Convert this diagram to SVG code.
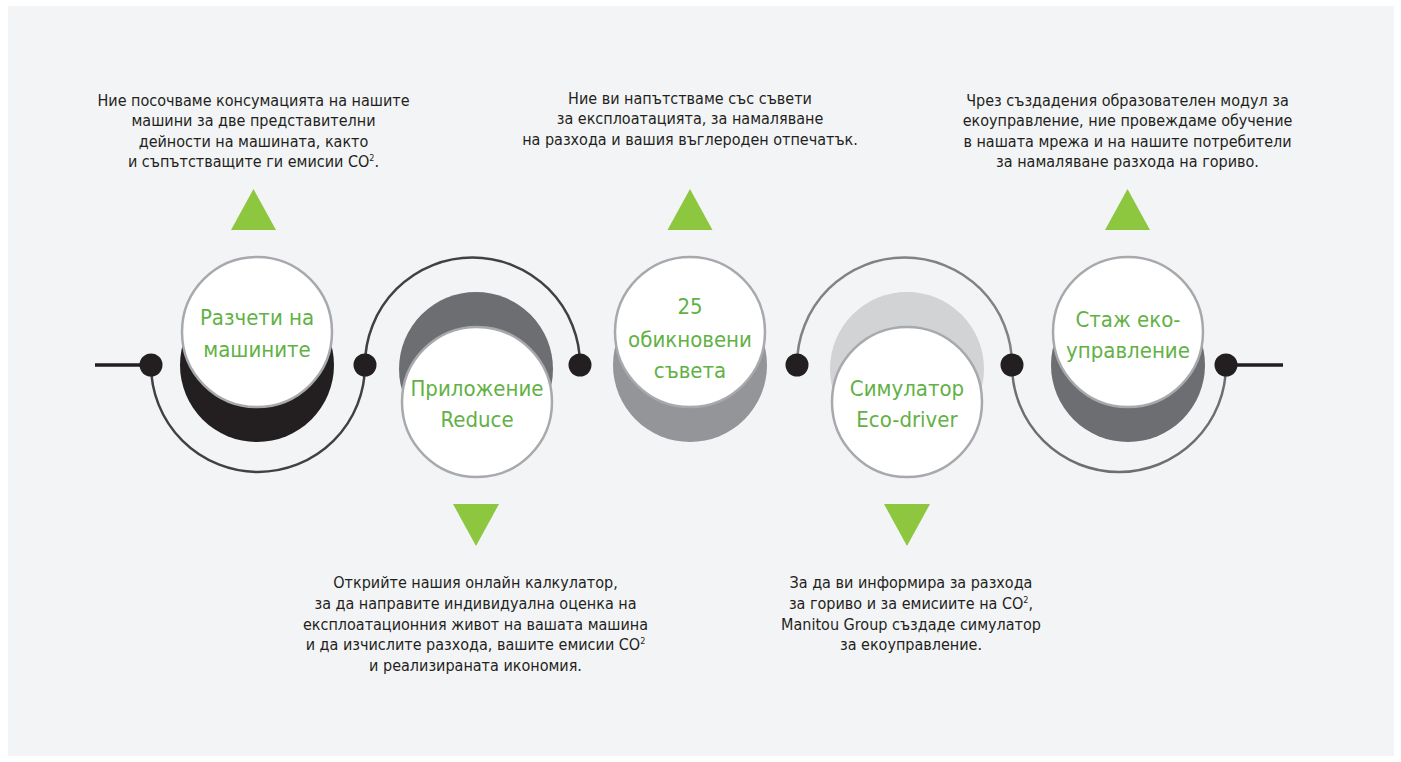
<svg xmlns="http://www.w3.org/2000/svg" width="1401" height="762" viewBox="0 0 1401 762">
<style>
.bg{fill:#f3f4f6}
.desc{font-family:"Liberation Sans Narrow","DejaVu Sans Condensed","Liberation Sans",sans-serif;font-stretch:condensed;font-size:16px;fill:#231f20;text-anchor:middle}
.sup{font-size:9px}
.lbl{font-family:"Liberation Sans Narrow","DejaVu Sans Condensed","Liberation Sans",sans-serif;font-stretch:condensed;font-size:22px;fill:#62b145;text-anchor:middle}
.face{fill:#ffffff;stroke:#a7a9ac;stroke-width:2.5}
.tri{fill:#8dc63f}
.dot{fill:#231f20}
.arc{fill:none;stroke-width:2.5}
.bar{stroke:#231f20;stroke-width:3.5}
</style>
<rect class="bg" x="8" y="6" width="1386" height="750"/>
<g id="connectors">
<line class="bar" x1="95" y1="365" x2="151" y2="365"/>
<line class="bar" x1="1226" y1="365" x2="1283" y2="365"/>
<path class="arc" stroke="#414042" d="M151,365 A107,107 0 0 0 365,365"/>
<path class="arc" stroke="#414042" d="M365,365 A107.5,107.5 0 0 1 580,365"/>
<path class="arc" stroke="#808285" d="M797,365 A107.5,107.5 0 0 1 1012,365"/>
<path class="arc" stroke="#6d6e71" d="M1012,365 A107,107 0 0 0 1226,365"/>
<circle class="dot" cx="151" cy="365" r="11.5"/>
<circle class="dot" cx="365" cy="365" r="11.5"/>
<circle class="dot" cx="580" cy="365" r="11.5"/>
<circle class="dot" cx="797" cy="365" r="11.5"/>
<circle class="dot" cx="1012" cy="365" r="11.5"/>
<circle class="dot" cx="1226" cy="365" r="11.5"/>
</g>
<g id="node1">
<circle cx="257" cy="365" r="77" fill="#231f20"/>
<circle class="face" cx="257" cy="332" r="75"/>
<text class="lbl" x="257" y="325">Разчети на</text>
<text class="lbl" x="257" y="357">машините</text>
<polygon class="tri" points="231,230 276,230 253.5,189"/>
<text class="desc" x="253.5" y="105.5">Ние посочваме консумацията на нашите</text>
<text class="desc" x="253.5" y="126">машини за две представителни</text>
<text class="desc" x="253.5" y="146.5">дейности на машината, както</text>
<text class="desc" x="253.5" y="167">и съпътстващите ги емисии CO<tspan class="sup" dy="-6">2</tspan><tspan dy="6">.</tspan></text>
</g>
<g id="node2">
<circle cx="476" cy="369" r="77" fill="#6d6e71"/>
<circle class="face" cx="477" cy="402" r="75"/>
<text class="lbl" x="477" y="396">Приложение</text>
<text class="lbl" x="477" y="427">Reduce</text>
<polygon class="tri" points="453,504 499,504 476,546"/>
<text class="desc" x="475.5" y="588">Открийте нашия онлайн калкулатор,</text>
<text class="desc" x="475.5" y="609">за да направите индивидуална оценка на</text>
<text class="desc" x="475.5" y="629.5">експлоатационния живот на вашата машина</text>
<text class="desc" x="475.5" y="650">и да изчислите разхода, вашите емисии CO<tspan class="sup" dy="-6">2</tspan></text>
<text class="desc" x="475.5" y="671">и реализираната икономия.</text>
</g>
<g id="node3">
<circle cx="690" cy="365" r="77" fill="#939598"/>
<circle class="face" cx="690" cy="332" r="75"/>
<text class="lbl" x="690" y="314">25</text>
<text class="lbl" x="690" y="347">обикновени</text>
<text class="lbl" x="690" y="378">съвета</text>
<polygon class="tri" points="667.5,230 712.5,230 690,189"/>
<text class="desc" x="690" y="103.5">Ние ви напътстваме със съвети</text>
<text class="desc" x="690" y="124">за експлоатацията, за намаляване</text>
<text class="desc" x="690" y="145">на разхода и вашия въглероден отпечатък.</text>
</g>
<g id="node4">
<circle cx="907" cy="369" r="77" fill="#d1d3d4"/>
<circle class="face" cx="907" cy="402" r="75"/>
<text class="lbl" x="907" y="396">Симулатор</text>
<text class="lbl" x="907" y="427">Eco-driver</text>
<polygon class="tri" points="884,504 930,504 907,546"/>
<text class="desc" x="911" y="588">За да ви информира за разхода</text>
<text class="desc" x="911" y="609">за гориво и за емисиите на CO<tspan class="sup" dy="-6">2</tspan><tspan dy="6">,</tspan></text>
<text class="desc" x="911" y="629.5">Manitou Group създаде симулатор</text>
<text class="desc" x="911" y="650">за екоуправление.</text>
</g>
<g id="node5">
<circle cx="1128" cy="365" r="77" fill="#6d6e71"/>
<circle class="face" cx="1128" cy="332" r="75"/>
<text class="lbl" x="1128" y="327">Стаж еко-</text>
<text class="lbl" x="1128" y="358">управление</text>
<polygon class="tri" points="1105,230 1150,230 1127.5,189"/>
<text class="desc" x="1127.5" y="105.5">Чрез създадения образователен модул за</text>
<text class="desc" x="1127.5" y="126">екоуправление, ние провеждаме обучение</text>
<text class="desc" x="1127.5" y="146.5">в нашата мрежа и на нашите потребители</text>
<text class="desc" x="1127.5" y="167">за намаляване разхода на гориво.</text>
</g>
</svg>
